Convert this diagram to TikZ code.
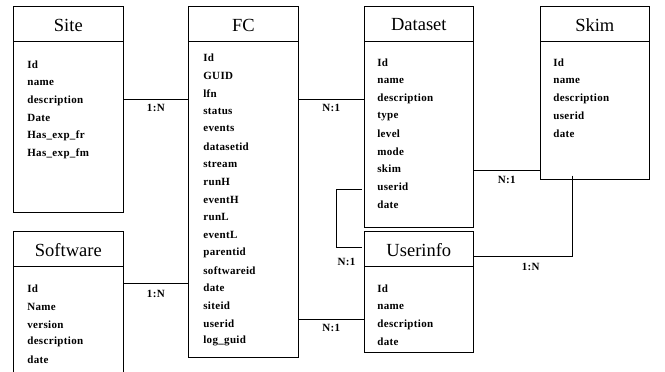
\documentclass[tikz,border=0pt]{standalone}
\usepackage{fontspec}
\setmainfont{Liberation Serif}
\newfontfamily\fieldfont[LetterSpace=3]{Liberation Serif}
\usetikzlibrary{calc}
\tikzset{>=latex}

\begin{document}
\begin{tikzpicture}[x=1pt, y=-1pt, line width=0.7pt,
  table/.style={draw, anchor=north west, minimum width=110pt, inner sep=0pt},
  tabletitle/.style={font=\rmfamily\fontsize{18.5}{20}\selectfont},
  field/.style={font=\fieldfont\bfseries\fontsize{11}{12}\selectfont, anchor=west, inner sep=0pt},
  card/.style={font=\fieldfont\bfseries\fontsize{11}{12}\selectfont, inner sep=0pt}]
\useasboundingbox (0, 0) rectangle (665, 372);
\clip (0, 0) rectangle (665, 372);

% tables
\node[table, minimum height=206pt] (site) at (13, 6) {};
\node[table, minimum height=150pt] (software) at (13, 231) {};
\node[table, minimum height=351pt] (fc) at (188, 6) {};
\node[table, minimum width=109pt, minimum height=221pt] (dataset) at (364, 6) {};
\node[table, minimum width=109pt, minimum height=121pt] (userinfo) at (364, 231) {};
\node[table, minimum width=109pt, minimum height=173pt] (skim) at (540, 6) {};

% header lines
\foreach \t in {site, software, fc, dataset, userinfo, skim}
  \draw ($(\t.north west)+(0,35)$) -- ($(\t.north east)+(0,35)$);

% titles
\node[tabletitle] (site-title) at ($(site.north)+(0,19)$) {Site};
\node[tabletitle] (software-title) at ($(software.north)+(0,19)$) {Software};
\node[tabletitle] (fc-title) at ($(fc.north)+(0,19)$) {FC};
\node[tabletitle] (dataset-title) at ($(dataset.north)+(0,19)$) {Dataset};
\node[tabletitle] (userinfo-title) at ($(userinfo.north)+(0,19)$) {Userinfo};
\node[tabletitle] (skim-title) at ($(skim.north)+(0,19)$) {Skim};

% fields
\foreach \f [count=\i from 0] in {Id, name, description, Date, Has\_exp\_fr, Has\_exp\_fm}
  \node[field] (site-\i) at (27, 65+17.7*\i) {\f};
\foreach \f [count=\i from 0] in {Id, Name, version, description, date}
  \node[field] (software-\i) at (27, 289+17.7*\i) {\f};
\foreach \f [count=\i from 0] in {Id, GUID, lfn, status, events, datasetid, stream, runH,
    eventH, runL, eventL, parentid, softwareid, date, siteid, userid, log\_guid}
  \node[field] (fc-\i) at (203, 58+17.7*\i) {\f};
\foreach \f [count=\i from 0] in {Id, name, description, type, level, mode, skim, userid, date}
  \node[field] (dataset-\i) at (377, 63+17.7*\i) {\f};
\foreach \f [count=\i from 0] in {Id, name, description, date}
  \node[field] (userinfo-\i) at (377, 289+17.7*\i) {\f};
\foreach \f [count=\i from 0] in {Id, name, description, userid, date}
  \node[field] (skim-\i) at (553, 63+17.7*\i) {\f};

% relations
\draw (site.east |- 0, 99) -- (fc.west |- 0, 99)
  node[card, pos=0.5, yshift=-9pt] {1:N};
\draw (software.east |- 0, 283) -- (fc.west |- 0, 283)
  node[card, pos=0.5, yshift=-11pt] {1:N};
\draw (fc.east |- 0, 99) -- (dataset.west |- 0, 99)
  node[card, pos=0.5, yshift=-9pt] {N:1};
\draw (fc.east |- 0, 319) -- (userinfo.west |- 0, 319)
  node[card, pos=0.5, yshift=-9pt] {N:1};
\draw ([xshift=-2pt]dataset.west |- 0, 189) -- (336, 189) -- (336, 247)
  -- ([xshift=-2pt]userinfo.west |- 0, 247)
  node[card, pos=0.4, yshift=-15pt] {N:1};
\draw (dataset.east |- 0, 170) -- (skim.west |- 0, 170)
  node[card, pos=0.5, yshift=-10pt] {N:1};
\draw ([yshift=4pt]skim.south -| 572, 0) -- (572, 256) -- (userinfo.east |- 0, 256)
  node[card, pos=0.42, yshift=-11pt] {1:N};
\end{tikzpicture}
\end{document}
